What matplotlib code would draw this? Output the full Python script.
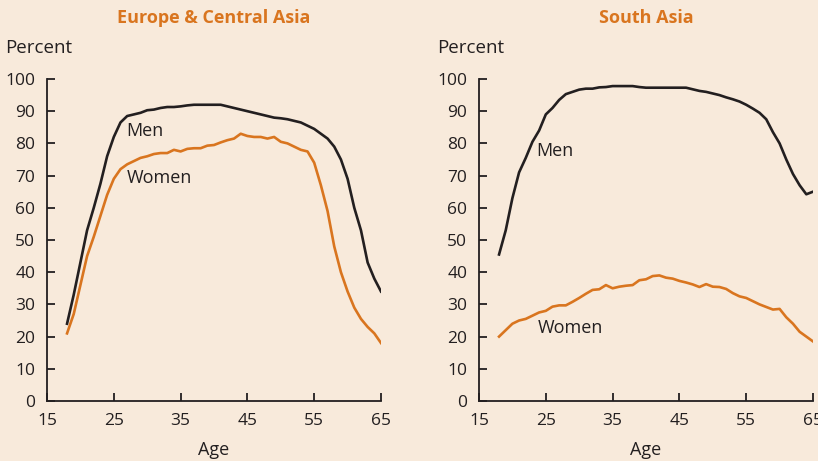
import matplotlib
matplotlib.use("Agg")
import matplotlib.pyplot as plt

ages = list(range(18, 66))

eca_men = [24, 33, 43, 53, 60, 67.5, 76, 82, 86.5, 88.5, 89, 89.5, 90.3, 90.5, 91, 91.3,
           91.3, 91.5, 91.8, 92, 92, 92, 92, 92, 91.5, 91, 90.5, 90, 89.5, 89, 88.5, 88,
           87.8, 87.5, 87, 86.5, 85.5, 84.5, 83, 81.5, 79, 75, 69, 60, 53, 43, 38, 34]
eca_women = [21, 27, 36, 45, 51, 57.5, 64, 69, 72, 73.5, 74.5, 75.5, 76, 76.7, 77, 77,
             78, 77.5, 78.3, 78.5, 78.5, 79.3, 79.5, 80.3, 81, 81.5, 83, 82.3, 82, 82,
             81.5, 82, 80.5, 80, 79, 78, 77.5, 74, 67, 59, 48, 40, 34, 29, 25.5, 23, 21, 18]

sa_men = [45.5, 53, 63, 71, 75.5, 80.5, 84, 89, 91, 93.5, 95.3, 96, 96.7, 97, 97, 97.4,
          97.5, 97.8, 97.8, 97.8, 97.8, 97.5, 97.3, 97.3, 97.3, 97.3, 97.3, 97.3, 97.3,
          96.8, 96.3, 96, 95.5, 95, 94.3, 93.7, 93, 92, 90.8, 89.5, 87.5, 83.5, 80, 75,
          70.5, 67, 64.2, 65]
sa_women = [20, 22, 24, 25, 25.5, 26.5, 27.5, 28, 29.3, 29.7, 29.7, 30.8, 32, 33.3, 34.5,
            34.7, 36, 35, 35.5, 35.8, 36, 37.5, 37.8, 38.8, 39, 38.3, 38, 37.3, 36.8, 36.2,
            35.4, 36.3, 35.5, 35.4, 34.8, 33.5, 32.5, 32, 31, 30, 29.2, 28.4, 28.6, 26, 24,
            21.5, 20, 18.5]

titles = ["Europe & Central Asia", "South Asia"]
xticks = [15, 25, 35, 45, 55, 65]
yticks = [0, 10, 20, 30, 40, 50, 60, 70, 80, 90, 100]

BG = "#F8EADB"
ORANGE = "#D9751F"
BLACK = "#231F20"
FONT = "Open Sans"

fig = plt.figure(figsize=(8.18, 4.61), dpi=100, facecolor=BG)

panels = [
    (47, eca_men, eca_women, (26.8, 83.9), (27.0, 69.3)),
    (479, sa_men, sa_women, (23.5, 77.6), (23.8, 22.7)),
]

for i, (x0, men, women, men_pos, women_pos) in enumerate(panels):
    ax = fig.add_axes([x0 / 818, (461 - 401) / 461, 334 / 818, 322 / 461])
    ax.set_facecolor(BG)
    ax.plot(ages, men, color=BLACK, lw=1.9, solid_joinstyle="round")
    ax.plot(ages, women, color=ORANGE, lw=1.9, solid_joinstyle="round")
    ax.set_xlim(15, 65)
    ax.set_ylim(0, 100)
    ax.set_xticks(xticks)
    ax.set_yticks(yticks)
    for s in ["top", "right"]:
        ax.spines[s].set_visible(False)
    for s in ["left", "bottom"]:
        ax.spines[s].set_linewidth(1.3)
        ax.spines[s].set_color(BLACK)
    ax.tick_params(direction="in", length=6, width=1.3, color=BLACK,
                   labelsize=12.5, labelcolor=BLACK, pad=8.5)
    for lab in ax.get_xticklabels() + ax.get_yticklabels():
        lab.set_fontfamily(FONT)
    ax.set_xlabel("Age", fontsize=13, family=FONT, color=BLACK, labelpad=9)
    ax.text(men_pos[0], men_pos[1], "Men", fontsize=13, family=FONT, color=BLACK,
            va="center", ha="left")
    ax.text(women_pos[0], women_pos[1], "Women", fontsize=13, family=FONT, color=BLACK,
            va="center", ha="left")
    px = 5 if i == 0 else 437
    fig.text(px / 818, 1 - 48 / 461, "Percent", fontsize=13.5, family=FONT, color=BLACK,
             va="center", ha="left")
    cx = (x0 + 167) / 818
    fig.text(cx, 1 - 18 / 461, titles[i], fontsize=13, family=FONT, fontweight="bold",
             color=ORANGE, va="center", ha="center")

fig.savefig("out.png", dpi=100, facecolor=BG)
